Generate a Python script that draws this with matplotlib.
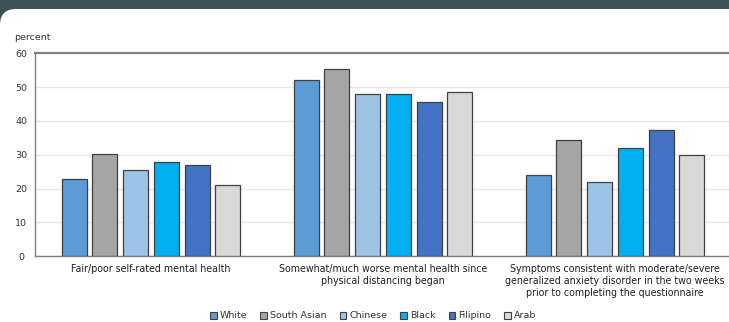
import matplotlib.pyplot as plt
import matplotlib.patches as mpatches
from matplotlib.transforms import IdentityTransform
import numpy as np

categories = ["Fair/poor self-rated mental health",
              "Somewhat/much worse mental health since\nphysical distancing began",
              "Symptoms consistent with moderate/severe\ngeneralized anxiety disorder in the two weeks\nprior to completing the questionnaire"]
groups = ["White", "South Asian", "Chinese", "Black", "Filipino", "Arab"]
values = {
    "White":       [22.8, 52.1, 24.1],
    "South Asian": [30.3, 55.3, 34.5],
    "Chinese":     [25.6, 48.0, 21.9],
    "Black":       [27.9, 48.0, 32.1],
    "Filipino":    [27.0, 45.6, 37.3],
    "Arab":        [21.0, 48.6, 29.9],
}
colors = ["#5b9bd5", "#a5a5a5", "#9dc3e6", "#00b0f0", "#4472c4", "#d9d9d9"]

W, H = 729, 322
fig = plt.figure(figsize=(W / 100, H / 100), dpi=100)
fig.patch.set_facecolor("#3d5159")
# white panel with rounded top-left corner
panel = mpatches.FancyBboxPatch((0, -30), W + 40, H - 9 + 30,
                                boxstyle="round,pad=0,rounding_size=16",
                                transform=IdentityTransform(), fc="white", ec="none",
                                zorder=-5)
fig.patches.append(panel)

ax = fig.add_axes([35 / W, 1 - 256 / H, (731 - 35) / W, (256 - 53.5) / H])
ax.set_facecolor("none")

x = np.arange(len(categories))
pitch = 0.1327
width = 0.108
for i, g in enumerate(groups):
    ax.bar(x + (i - 2.5) * pitch, values[g], width, color=colors[i],
           edgecolor="#404040", linewidth=0.9, label=g, zorder=3)

ax.set_xlim(-0.5, 2.5)
ax.set_ylim(0, 60)
ax.set_yticks(range(0, 61, 10))
ax.yaxis.grid(True, color="#e8e8e8", linewidth=1, zorder=0)
ax.set_xticks(x)
ax.set_xticklabels(categories, fontsize=6.85, color="#222222", linespacing=1.22)
ax.tick_params(axis="x", length=0, pad=6)
ax.tick_params(axis="y", length=0, pad=10, labelsize=6.8, labelcolor="#333333")
for lbl in ax.get_yticklabels():
    lbl.set_horizontalalignment("center")

for s in ["left", "bottom"]:
    ax.spines[s].set_color("#808080")
    ax.spines[s].set_linewidth(1)
ax.spines["top"].set_color("#808080")
ax.spines["top"].set_linewidth(1.6)
ax.spines["right"].set_visible(False)

fig.text(14 / W, 1 - 38 / H, "percent", fontsize=6.8, color="#333333", va="center")

handles = [mpatches.Patch(facecolor=c, edgecolor="#404040", linewidth=0.8) for c in colors]
fig.legend(handles, groups, loc="center", bbox_to_anchor=(373 / W, 1 - 316 / H), ncol=6,
           frameon=False, fontsize=6.8, handlelength=0.7, handleheight=0.7,
           handletextpad=0.3, columnspacing=1.4, labelcolor="#333333")

fig.savefig("out.png", dpi=100, facecolor=fig.get_facecolor())
